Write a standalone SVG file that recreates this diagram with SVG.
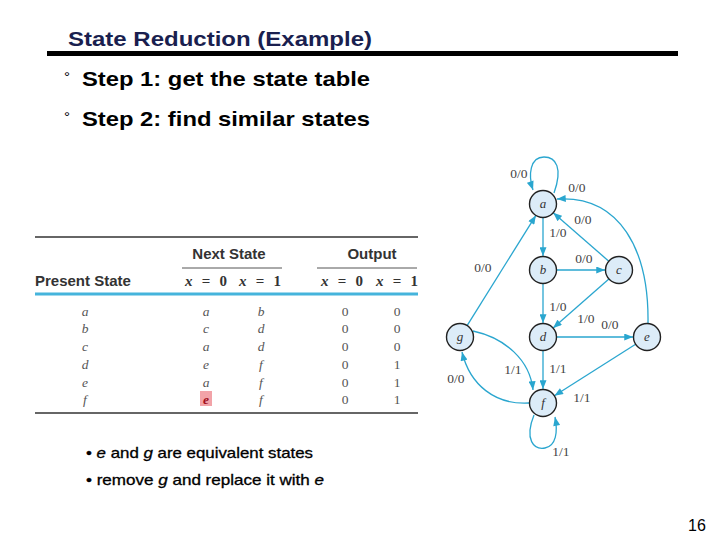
<svg xmlns="http://www.w3.org/2000/svg" width="720" height="540" viewBox="0 0 720 540">
<defs>
<marker id="arr" viewBox="0 0 10 8" refX="10" refY="4" markerWidth="10" markerHeight="7" markerUnits="userSpaceOnUse" orient="auto">
<path d="M0,0 L10,4 L0,8 z" fill="#2aa6cf"/>
</marker>
<style>
.title{font-family:"Liberation Sans",Arial,sans-serif;font-size:21px;font-weight:bold;fill:#1a1f4f}
.step{font-family:"Liberation Sans",Arial,sans-serif;font-size:21px;font-weight:bold;fill:#000}
.deg{font-family:"Liberation Sans",Arial,sans-serif;font-size:15px;fill:#000}
.note{font-family:"Liberation Sans",Arial,sans-serif;font-size:14.5px;fill:#000;stroke:#000;stroke-width:0.3}
.hdr{font-family:"Liberation Sans",Arial,sans-serif;font-size:15px;font-weight:bold;fill:#333}
.hx{font-family:"Liberation Serif",serif;font-size:15px;font-weight:bold;fill:#333}
.cell{font-family:"Liberation Serif",serif;font-size:13.5px;font-style:italic;fill:#555;text-anchor:middle}
.num{font-family:"Liberation Serif",serif;font-size:13.5px;fill:#555;text-anchor:middle}
.node circle{fill:#dcecf8;stroke:#222;stroke-width:1.4}
.node text{font-family:"Liberation Serif",serif;font-size:13px;font-style:italic;fill:#333;text-anchor:middle}
.edge{fill:none;stroke:#2aa6cf;stroke-width:1.3;marker-end:url(#arr)}
.lbl{font-family:"Liberation Serif",serif;font-size:13.5px;fill:#444;text-anchor:middle}
</style>
</defs>
<rect width="720" height="540" fill="#fff"/>

<text class="title" x="68" y="46" textLength="304" lengthAdjust="spacingAndGlyphs">State Reduction (Example)</text>
<rect x="47" y="51" width="631" height="5" fill="#000"/>
<text class="deg" x="64" y="82">°</text>
<text class="step" x="82" y="86" textLength="288" lengthAdjust="spacingAndGlyphs">Step 1: get the state table</text>
<text class="deg" x="64" y="122">°</text>
<text class="step" x="82" y="126" textLength="288" lengthAdjust="spacingAndGlyphs">Step 2: find similar states</text>

<g id="table">
<line x1="35" y1="237" x2="418" y2="237" stroke="#666" stroke-width="2"/>
<text class="hdr" x="229" y="259" text-anchor="middle">Next State</text>
<text class="hdr" x="372" y="259" text-anchor="middle">Output</text>
<line x1="182" y1="268" x2="282" y2="268" stroke="#555" stroke-width="1"/>
<line x1="317" y1="268" x2="417" y2="268" stroke="#555" stroke-width="1"/>
<text class="hdr" x="35" y="286">Present State</text>
<text class="hx" x="185" y="286" textLength="42" lengthAdjust="spacing"><tspan font-style="italic">x</tspan> = 0</text>
<text class="hx" x="239" y="286" textLength="42" lengthAdjust="spacing"><tspan font-style="italic">x</tspan> = 1</text>
<text class="hx" x="321" y="286" textLength="42" lengthAdjust="spacing"><tspan font-style="italic">x</tspan> = 0</text>
<text class="hx" x="376" y="286" textLength="42" lengthAdjust="spacing"><tspan font-style="italic">x</tspan> = 1</text>
<line x1="35" y1="294" x2="418" y2="294" stroke="#45b4dc" stroke-width="3"/>
<rect x="200" y="391" width="12" height="15" fill="#f2a3a8"/>
<g>
<text class="cell" x="85" y="316">a</text><text class="cell" x="206" y="316">a</text><text class="cell" x="261" y="316">b</text><text class="num" x="345" y="316">0</text><text class="num" x="397" y="316">0</text>
<text class="cell" x="85" y="333">b</text><text class="cell" x="206" y="333">c</text><text class="cell" x="261" y="333">d</text><text class="num" x="345" y="333">0</text><text class="num" x="397" y="333">0</text>
<text class="cell" x="85" y="351">c</text><text class="cell" x="206" y="351">a</text><text class="cell" x="261" y="351">d</text><text class="num" x="345" y="351">0</text><text class="num" x="397" y="351">0</text>
<text class="cell" x="85" y="369">d</text><text class="cell" x="206" y="369">e</text><text class="cell" x="261" y="369">f</text><text class="num" x="345" y="369">0</text><text class="num" x="397" y="369">1</text>
<text class="cell" x="85" y="387">e</text><text class="cell" x="206" y="387">a</text><text class="cell" x="261" y="387">f</text><text class="num" x="345" y="387">0</text><text class="num" x="397" y="387">1</text>
<text class="cell" x="85" y="404">f</text><text class="cell" x="206" y="404" style="fill:#a01020;font-weight:bold">e</text><text class="cell" x="261" y="404">f</text><text class="num" x="345" y="404">0</text><text class="num" x="397" y="404">1</text>
</g>
<line x1="35" y1="413" x2="418" y2="413" stroke="#666" stroke-width="2"/>
</g>

<g id="connectors">
<path class="edge" d="M554,193 C563,168 556,157 544,157 C530,157 528,175 533,190"/>
<path class="edge" d="M543,218 L543,256"/>
<path class="edge" d="M557,270 L605,270"/>
<path class="edge" d="M608.8,261.2 L553.2,212.8"/>
<path class="edge" d="M467.1,325.6 L535.9,215.4"/>
<path class="edge" d="M543,284 L543,323"/>
<path class="edge" d="M608.9,278.9 L553.1,328.1"/>
<path class="edge" d="M557,337 L633,337"/>
<path class="edge" d="M543,351 L543,389"/>
<path class="edge" d="M635.6,344.2 L554.4,395.8"/>
<path class="edge" d="M648,323 C649,250 620,195 557,199"/>
<path class="edge" d="M473,331 C505,338 530,360 533,390"/>
<path class="edge" d="M529,403 C495,405 470,385 462,352"/>
<path class="edge" d="M534,415 C524,440 534,450 545,448 C556,446 558,432 555,417"/>
<text class="lbl" x="519" y="178">0/0</text>
<text class="lbl" x="577" y="192">0/0</text>
<text class="lbl" x="583" y="224">0/0</text>
<text class="lbl" x="558" y="237">1/0</text>
<text class="lbl" x="584" y="263">0/0</text>
<text class="lbl" x="483" y="272">0/0</text>
<text class="lbl" x="558" y="311">1/0</text>
<text class="lbl" x="586" y="323">1/0</text>
<text class="lbl" x="610" y="329">0/0</text>
<text class="lbl" x="513" y="374">1/1</text>
<text class="lbl" x="558" y="373">1/1</text>
<text class="lbl" x="456" y="383">0/0</text>
<text class="lbl" x="582" y="402">1/1</text>
<text class="lbl" x="561" y="456">1/1</text>
</g>

<g id="a" class="node"><circle cx="543" cy="204" r="13.5"/><text x="543" y="208">a</text></g>
<g id="b" class="node"><circle cx="543" cy="270" r="13.5"/><text x="543" y="274">b</text></g>
<g id="c" class="node"><circle cx="619" cy="270" r="13.5"/><text x="619" y="274">c</text></g>
<g id="d" class="node"><circle cx="543" cy="337" r="13.5"/><text x="543" y="341">d</text></g>
<g id="e" class="node"><circle cx="647" cy="337" r="13.5"/><text x="647" y="341">e</text></g>
<g id="g" class="node"><circle cx="460" cy="337" r="13.5"/><text x="460" y="341">g</text></g>
<g id="f" class="node"><circle cx="543" cy="403" r="13.5"/><text x="543" y="407">f</text></g>

<text class="note" x="86" y="458" textLength="227" lengthAdjust="spacingAndGlyphs">• <tspan font-style="italic">e</tspan> and <tspan font-style="italic">g</tspan> are equivalent states</text>
<text class="note" x="86" y="485" textLength="238" lengthAdjust="spacingAndGlyphs">• remove <tspan font-style="italic">g</tspan> and replace it with <tspan font-style="italic">e</tspan></text>
<text x="688" y="531" font-family="'Liberation Sans',Arial,sans-serif" font-size="16" fill="#000">16</text>
</svg>
